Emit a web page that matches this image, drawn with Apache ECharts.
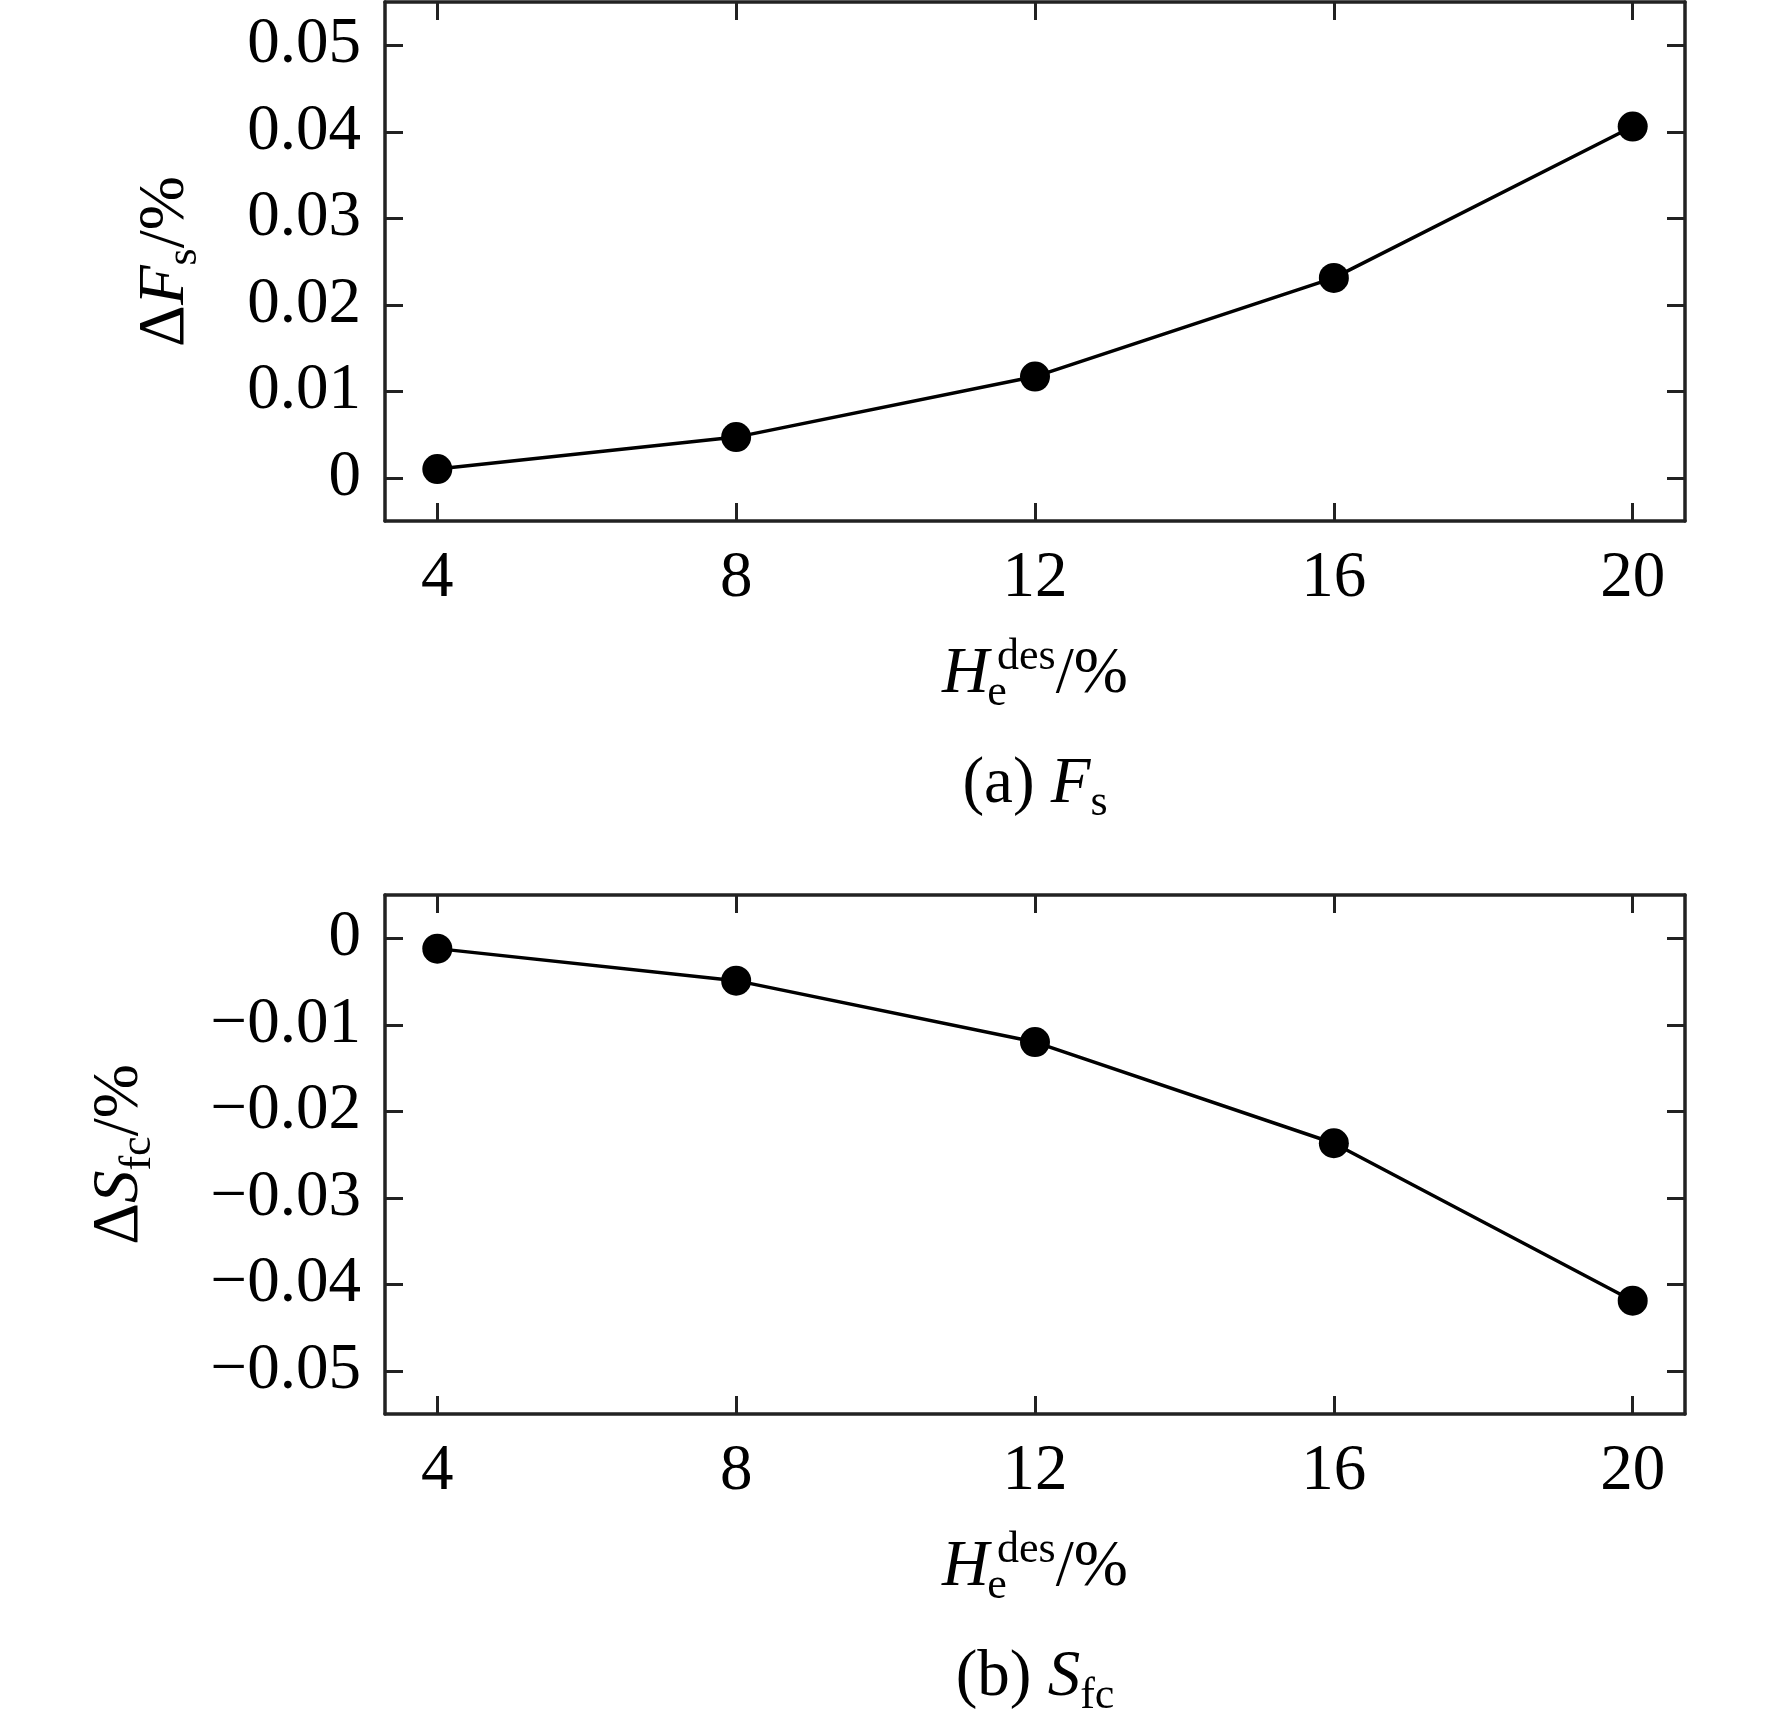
<!DOCTYPE html>
<html>
<head>
<meta charset="utf-8">
<script src="https://cdn.jsdelivr.net/npm/echarts@6/dist/echarts.min.js"></script>
<style>
  html, body { margin: 0; padding: 0; background: #fff; }
  #chart { width: 1772px; height: 1726px; }
</style>
</head>
<body>
<div id="chart"></div>
<script>
// design error of the equivalent stiffness (%)
const xValues = [4, 8, 12, 16, 20];
const fsValues = [0.0010, 0.0047, 0.0117, 0.0231, 0.0406];
const sfcValues = [-0.0012, -0.0049, -0.0120, -0.0237, -0.0419];

const xTicks = [4, 8, 12, 16, 20];
const fsTicks = [0, 0.01, 0.02, 0.03, 0.04, 0.05];
const sfcTicks = [0, -0.01, -0.02, -0.03, -0.04, -0.05];

const FONT = "'Liberation Serif', 'Times New Roman', serif";
const INK = '#222';

// rich styles for names with sub/superscripts
const t = { fontFamily: FONT, fontWeight: 'normal', color: '#000' };
const rich = {
  r:   Object.assign({}, t, { fontSize: 65, lineHeight: 80 }),
  i:   Object.assign({}, t, { fontSize: 65, lineHeight: 80, fontStyle: 'italic' }),
  g:   Object.assign({}, t, { fontSize: 40, lineHeight: 80 }),
  sub: Object.assign({}, t, { fontSize: 44, lineHeight: 36, verticalAlign: 'bottom' }),
  sub0:Object.assign({}, t, { fontSize: 44, lineHeight: 36, verticalAlign: 'bottom', width: 0 }),
  sup: Object.assign({}, t, { fontSize: 44, lineHeight: 50, verticalAlign: 'top' }),
  cs:  Object.assign({}, t, { fontSize: 44, lineHeight: 40, verticalAlign: 'bottom' })
};

function fmtY(v) {
  if (Math.abs(v) < 1e-9) return '0';
  return (v < 0 ? '\u2212' : '') + Math.abs(v).toFixed(2);
}

const grids = [
  { left: 385, right: 87, top: 2, height: 519 },
  { left: 385, right: 87, top: 895, height: 519 }
];

function xAxisPair(g) {
  const base = {
    gridIndex: g, type: 'value', min: 3.3, max: 20.7,
    axisLine: { show: true, onZero: false, lineStyle: { color: INK, width: 3.5 } },
    axisTick: { show: true, inside: true, length: 18, customValues: xTicks, lineStyle: { color: INK, width: 3 } },
    splitLine: { show: false }
  };
  return [
    Object.assign({}, base, {
      position: 'bottom',
      axisLabel: { customValues: xTicks, margin: 25, fontFamily: FONT, fontSize: 65, lineHeight: 65, color: '#000' },
      name: '{i|H}{g|\u2009}{sub0|e}{sup|des}{r|/%}',
      nameLocation: 'middle', nameGap: 114,
      nameTextStyle: { rich: rich }
    }),
    Object.assign({}, base, { position: 'top', axisLabel: { show: false } })
  ];
}

function yAxisPair(g, lo, hi, ticks, name, gap) {
  const base = {
    gridIndex: g, type: 'value', min: lo, max: hi,
    axisLine: { show: true, onZero: false, lineStyle: { color: INK, width: 3.5 } },
    axisTick: { show: true, inside: true, length: 18, customValues: ticks, lineStyle: { color: INK, width: 3 } },
    splitLine: { show: false }
  };
  return [
    Object.assign({}, base, {
      position: 'left',
      axisLabel: { customValues: ticks, margin: 24, formatter: fmtY, fontFamily: FONT, fontSize: 65, color: '#000' },
      name: name, nameLocation: 'middle', nameGap: gap,
      nameTextStyle: { rich: rich }
    }),
    Object.assign({}, base, { position: 'right', axisLabel: { show: false } })
  ];
}

const chart = echarts.init(document.getElementById('chart'));

const option = {
  animation: false,
  backgroundColor: '#fff',
  grid: grids,
  title: [
    { text: '{r|(a) }{i|F}{cs|s}', left: 1035, top: 745, textAlign: 'center', padding: 0,
      textStyle: { fontWeight: 'normal', rich: rich } },
    { text: '{r|(b) }{i|S}{cs|fc}', left: 1035, top: 1638, textAlign: 'center', padding: 0,
      textStyle: { fontWeight: 'normal', rich: rich } }
  ],
  xAxis: xAxisPair(0).concat(xAxisPair(1)),
  yAxis: yAxisPair(0, -0.005, 0.055, fsTicks, '{r|\u0394}{i|F}{sub|s}{r|/%}', 179)
    .concat(yAxisPair(1, -0.055, 0.005, sfcTicks, '{r|\u0394}{i|S}{sub|fc}{r|/%}', 225)),
  series: [
    {
      type: 'line', xAxisIndex: 0, yAxisIndex: 0,
      data: xValues.map((x, k) => [x, fsValues[k]]),
      symbol: 'circle', symbolSize: 30,
      itemStyle: { color: '#000' },
      lineStyle: { color: '#000', width: 3.5 }
    },
    {
      type: 'line', xAxisIndex: 2, yAxisIndex: 2,
      data: xValues.map((x, k) => [x, sfcValues[k]]),
      symbol: 'circle', symbolSize: 30,
      itemStyle: { color: '#000' },
      lineStyle: { color: '#000', width: 3.5 }
    }
  ]
};

chart.setOption(option);
</script>
</body>
</html>
